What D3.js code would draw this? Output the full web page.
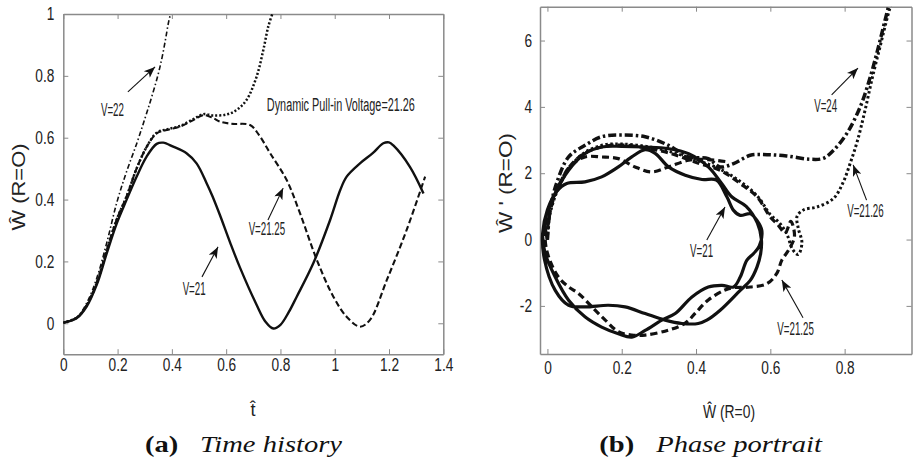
<!DOCTYPE html>
<html>
<head>
<meta charset="utf-8">
<script src="https://cdn.jsdelivr.net/npm/d3@7"></script>
<style>
body { margin: 0; background: #fff; }
svg { display: block; }
</style>
</head>
<body>
<script>
var width = 914;
var height = 465;

// panel (a): time history, [t, w]
var v21Time = [[0,0.002],[0.049,0.016],[0.086,0.054],[0.123,0.124],[0.16,0.226],[0.197,0.323],[0.233,0.399],[0.27,0.474],[0.307,0.539],[0.344,0.58],[0.368,0.584],[0.405,0.571],[0.454,0.55],[0.491,0.517],[0.528,0.453],[0.55,0.41],[0.577,0.35],[0.615,0.26],[0.651,0.18],[0.712,0.06],[0.745,0.005],[0.774,-0.017],[0.8,-0.005],[0.83,0.035],[0.86,0.086],[0.921,0.194],[0.983,0.334],[1.02,0.43],[1.044,0.474],[1.093,0.517],[1.14,0.55],[1.179,0.582],[1.2,0.585],[1.216,0.575],[1.277,0.506],[1.327,0.42]];
var v2125Time = [[0,0.002],[0.05,0.018],[0.086,0.058],[0.123,0.13],[0.16,0.236],[0.197,0.336],[0.233,0.41],[0.27,0.5],[0.307,0.57],[0.344,0.614],[0.381,0.625],[0.43,0.636],[0.479,0.657],[0.516,0.673],[0.553,0.663],[0.577,0.652],[0.62,0.645],[0.688,0.641],[0.72,0.61],[0.762,0.55],[0.823,0.463],[0.872,0.356],[0.934,0.205],[0.995,0.086],[1.044,0.021],[1.093,-0.011],[1.13,0.011],[1.192,0.14],[1.265,0.302],[1.333,0.474]];
var v2126Time = [[0,0.002],[0.05,0.018],[0.086,0.058],[0.123,0.13],[0.16,0.236],[0.197,0.336],[0.233,0.41],[0.27,0.5],[0.307,0.57],[0.344,0.616],[0.381,0.627],[0.43,0.638],[0.479,0.66],[0.516,0.676],[0.553,0.672],[0.602,0.675],[0.639,0.69],[0.675,0.722],[0.712,0.797],[0.737,0.884],[0.755,0.959],[0.77,1.0]];
var v22Time = [[0,0.002],[0.05,0.02],[0.086,0.065],[0.123,0.145],[0.16,0.26],[0.197,0.39],[0.233,0.49],[0.27,0.58],[0.3,0.66],[0.325,0.73],[0.348,0.8],[0.364,0.86],[0.377,0.92],[0.387,0.97],[0.395,1.0]];

// panel (b): phase portrait, [w, w']
var v21Phase = [[0,0],[-0.006,0.58],[0.021,1.39],[0.057,2.09],[0.101,2.59],[0.146,2.79],[0.2,2.81],[0.263,2.79],[0.326,2.74],[0.38,2.59],[0.433,2.19],[0.469,1.69],[0.496,1.29],[0.535,1.0],[0.565,0.5],[0.576,0],[0.574,-0.42],[0.564,-0.83],[0.546,-1.23],[0.519,-1.53],[0.465,-2.13],[0.429,-2.43],[0.406,-2.53],[0.362,-2.53],[0.317,-2.43],[0.263,-2.23],[0.209,-2.03],[0.164,-1.98],[0.101,-2.03],[0.057,-1.98],[0.021,-1.53],[-0.008,-0.6],[-0.013,0.18],[0,0.9],[0.025,1.45],[0.052,1.69],[0.101,1.74],[0.146,1.89],[0.191,2.19],[0.227,2.49],[0.263,2.71],[0.29,2.6],[0.326,2.19],[0.371,1.94],[0.416,1.81],[0.455,1.79],[0.483,1.29],[0.501,0.88],[0.519,0.73],[0.546,0.78],[0.564,0.58],[0.577,0.28],[0.57,-0.2],[0.555,-0.42],[0.537,-0.62],[0.519,-1.13],[0.501,-1.43],[0.47,-1.38],[0.433,-1.43],[0.389,-1.73],[0.344,-2.23],[0.308,-2.43],[0.263,-2.74],[0.227,-2.94],[0.191,-2.84],[0.146,-2.64],[0.101,-2.33],[0.057,-1.83],[0.021,-1.13],[-0.006,-0.42],[-0.013,0.1]];
var v2125Phase = [[0,0],[0.003,0.6],[0.022,1.4],[0.06,2.2],[0.1,2.6],[0.15,2.8],[0.2,2.85],[0.27,2.75],[0.33,2.6],[0.41,2.29],[0.465,2.09],[0.519,1.69],[0.564,1.29],[0.6,0.68],[0.62,0.45],[0.64,0.2],[0.655,0.55],[0.665,0.1],[0.65,-0.3],[0.631,-0.62],[0.617,-1.03],[0.591,-1.33],[0.546,-1.43],[0.501,-1.45],[0.478,-1.52],[0.433,-1.82],[0.398,-2.22],[0.371,-2.52],[0.326,-2.73],[0.263,-2.88],[0.227,-2.88],[0.191,-2.78],[0.155,-2.42],[0.119,-2.02],[0.083,-1.62],[0.056,-1.42],[0.029,-1.12],[0.003,-0.52],[-0.006,0],[0.003,0.9],[0.03,1.6],[0.06,2.2],[0.101,2.49],[0.146,2.49],[0.191,2.44],[0.236,2.19],[0.281,2.04],[0.326,2.19],[0.38,2.39],[0.433,2.41],[0.487,2.34]];
var v2126Phase = [[0,0],[0.004,0.6],[0.024,1.4],[0.062,2.2],[0.1,2.62],[0.15,2.85],[0.2,2.88],[0.27,2.8],[0.33,2.65],[0.4,2.4],[0.46,2.15],[0.519,1.75],[0.566,1.3],[0.6,0.75],[0.625,0.5],[0.645,0.15],[0.66,-0.3],[0.675,-0.45],[0.685,-0.1],[0.675,0.35],[0.672,0.7],[0.69,0.9],[0.725,0.98],[0.77,1.24],[0.795,1.7],[0.815,2.3],[0.835,3.0],[0.855,3.9],[0.875,4.9],[0.895,5.8],[0.915,6.7],[0.925,7.1]];
var v24Phase = [[0,0],[0.007,0.88],[0.023,1.64],[0.057,2.49],[0.101,2.84],[0.146,3.1],[0.2,3.15],[0.263,3.1],[0.326,2.84],[0.38,2.49],[0.433,2.44],[0.465,2.19],[0.501,2.29],[0.546,2.54],[0.591,2.56],[0.644,2.52],[0.707,2.42],[0.743,2.45],[0.77,2.69],[0.806,3.2],[0.842,4.0],[0.869,4.9],[0.891,5.81],[0.909,6.62],[0.918,7.02],[0.922,7.2]];

// tick labels
var tTicks = [0, 0.2, 0.4, 0.6, 0.8, 1, 1.2, 1.4];
var wTicks = [0, 0.2, 0.4, 0.6, 0.8, 1];
var phaseWTicks = [0, 0.2, 0.4, 0.6, 0.8];
var phaseVTicks = [-2, 0, 2, 4, 6];

// labels with arrows: [text, textX, textY, arrowFromX, arrowFromY, arrowToX, arrowToY] in data units
var timeNotes = [
    ["V=22", 0.181, 0.67, 0.238, 0.748, 0.338, 0.829],
    ["V=21.25", 0.75, 0.285, 0.754, 0.334, 0.81, 0.437],
    ["V=21", 0.482, 0.092, 0.511, 0.15, 0.57, 0.247]
];
var phaseNotes = [
    ["V=24", 0.749, 3.85, 0.765, 4.36, 0.836, 5.17],
    ["V=21.26", 0.856, 0.68, 0.859, 1.19, 0.823, 2.25],
    ["V=21", 0.415, -0.52, 0.429, -0.01, 0.478, 0.98],
    ["V=21.25", 0.668, -2.88, 0.688, -2.36, 0.631, -1.22]
];

var sans = "'Liberation Sans', Arial, sans-serif";
var serif = "'Liberation Serif', 'Times New Roman', serif";
var frameColor = "#8a8a8a";
var squeeze = 0.76; // the original uses a narrow face

var svg = d3.select("body")
    .append("svg")
    .attr("width", width)
    .attr("height", height)
    .style("background-color", "#fff");

svg.append("defs").append("marker")
    .attr("id", "head")
    .attr("viewBox", "0 0 10 8")
    .attr("refX", 10)
    .attr("refY", 4)
    .attr("markerWidth", 12)
    .attr("markerHeight", 9)
    .attr("markerUnits", "userSpaceOnUse")
    .attr("orient", "auto")
    .append("path")
    .attr("d", "M0,0 L10,4 L0,8 L2.5,4 z")
    .attr("fill", "#111");

// ---------- panel (a)
var xT = d3.scaleLinear().domain([0, 1.4]).range([63.3, 443.3]);
var yT = d3.scaleLinear().domain([-0.1, 1]).range([354.2, 14]);

// ---------- panel (b)
var xP = d3.scaleLinear().domain([-0.02, 0.98]).range([540, 911.5]);
var yP = d3.scaleLinear().domain([-3.45, 7.02]).range([354, 6.7]);

drawFrame(xT, yT, tTicks, wTicks, 4, 9);
drawFrame(xP, yP, phaseWTicks, phaseVTicks, 7, 8);

svg.append("clipPath").attr("id", "clipA")
    .append("rect").attr("x", 63.3).attr("y", 14).attr("width", 380).attr("height", 340.2);
svg.append("clipPath").attr("id", "clipB")
    .append("rect").attr("x", 540).attr("y", 6.7).attr("width", 374).attr("height", 347.3);

var lineT = d3.line().x(d => xT(d[0])).y(d => yT(d[1])).curve(d3.curveCatmullRom.alpha(0.5));
var lineP = d3.line().x(d => xP(d[0])).y(d => yP(d[1])).curve(d3.curveCatmullRom.alpha(0.5));

var gA = svg.append("g").attr("clip-path", "url(#clipA)");
addCurve(gA, lineT, v22Time, 1.6, "5,2.5,1.5,2.5");
addCurve(gA, lineT, v2126Time, 2.5, "2,2");
addCurve(gA, lineT, v2125Time, 2.1, "6,3");
addCurve(gA, lineT, v21Time, 2.4, null);

var gB = svg.append("g").attr("clip-path", "url(#clipB)");
addCurve(gB, lineP, v24Phase, 3.5, "8,3,2.5,3");
addCurve(gB, lineP, v2126Phase, 3, "2.5,2.5");
addCurve(gB, lineP, v2125Phase, 3.2, "7,4");
addCurve(gB, lineP, v21Phase, 3.2, null);

timeNotes.forEach(n => addNote(xT, yT, n));
phaseNotes.forEach(n => addNote(xP, yP, n));

svg.append("text")
    .attr("x", xT(0.75))
    .attr("y", yT(0.686))
    .attr("font-family", sans)
    .attr("font-size", "18px")
    .attr("fill", "#222")
    .attr("textLength", 148)
    .attr("lengthAdjust", "spacingAndGlyphs")
    .text("Dynamic Pull-in Voltage=21.26");

// axis titles
svg.append("text")
    .attr("transform", "translate(25,187) rotate(-90)")
    .attr("text-anchor", "middle")
    .attr("font-family", sans)
    .attr("font-size", "18px")
    .attr("fill", "#222")
    .attr("textLength", 87)
    .attr("lengthAdjust", "spacingAndGlyphs")
    .text("Ŵ (R=O)");

svg.append("text")
    .attr("transform", "translate(512,183) rotate(-90)")
    .attr("text-anchor", "middle")
    .attr("font-family", sans)
    .attr("font-size", "18px")
    .attr("fill", "#222")
    .attr("textLength", 100)
    .attr("lengthAdjust", "spacingAndGlyphs")
    .text("Ŵ ' (R=O)");

svg.append("text")
    .attr("x", 253)
    .attr("y", 416)
    .attr("text-anchor", "middle")
    .attr("font-family", sans)
    .attr("font-size", "18px")
    .attr("fill", "#222")
    .text("t\u0302");

svg.append("text")
    .attr("x", 729)
    .attr("y", 418)
    .attr("text-anchor", "middle")
    .attr("font-family", sans)
    .attr("font-size", "19px")
    .attr("fill", "#222")
    .attr("textLength", 52)
    .attr("lengthAdjust", "spacingAndGlyphs")
    .text("Ŵ (R=0)");

// captions: "(a)" at 145, "Time history" spans 200..342
var capScale = addCaption(145, "(a)", "Time history", 142);
var bTag = svg.append("text").attr("font-family", serif).attr("font-size", "24px").attr("font-weight", "bold").text("(b)");
var bWords = svg.append("text").attr("font-family", serif).attr("font-size", "24px").attr("font-style", "italic").text("Phase portrait");
var wTag = bTag.node().getComputedTextLength() * capScale;
var wWords = bWords.node().getComputedTextLength() * capScale;
var bStart = 822 - wWords - 22 - wTag;
bTag.attr("x", bStart).attr("y", 452).attr("fill", "#111")
    .attr("textLength", wTag).attr("lengthAdjust", "spacingAndGlyphs");
bWords.attr("x", 822 - wWords).attr("y", 452).attr("fill", "#111")
    .attr("textLength", wWords).attr("lengthAdjust", "spacingAndGlyphs");

function squeezeText(sel) {
    sel.each(function () {
        var w = this.getComputedTextLength();
        d3.select(this)
            .attr("textLength", w * squeeze)
            .attr("lengthAdjust", "spacingAndGlyphs");
    });
}

function drawFrame(x, y, xTicks, yTicks, xPad, yPad) {
    var x0 = x.range()[0], x1 = x.range()[1];
    var y0 = y.range()[0], y1 = y.range()[1];

    var bottom = svg.append("g")
        .attr("transform", `translate(0,${y0})`)
        .call(d3.axisBottom(x).tickValues(xTicks).tickFormat(d => String(d)).tickSizeInner(-5).tickSizeOuter(0).tickPadding(xPad));
    var left = svg.append("g")
        .attr("transform", `translate(${x0},0)`)
        .call(d3.axisLeft(y).tickValues(yTicks).tickFormat(d => String(d)).tickSizeInner(-5).tickSizeOuter(0).tickPadding(yPad));
    var top = svg.append("g")
        .attr("transform", `translate(0,${y1})`)
        .call(d3.axisTop(x).tickValues(xTicks).tickFormat("").tickSizeInner(-5).tickSizeOuter(0));
    var right = svg.append("g")
        .attr("transform", `translate(${x1},0)`)
        .call(d3.axisRight(y).tickValues(yTicks).tickFormat("").tickSizeInner(-5).tickSizeOuter(0));

    [bottom, left, top, right].forEach(function (g) {
        g.select(".domain").attr("stroke", frameColor).attr("stroke-width", 1.5);
        g.selectAll(".tick line").attr("stroke", frameColor).attr("stroke-width", 1);
        g.selectAll(".tick text")
            .attr("font-family", sans)
            .attr("font-size", "18px")
            .attr("fill", "#222");
    });
    squeezeText(bottom.selectAll(".tick text"));
    squeezeText(left.selectAll(".tick text"));
}

function addCurve(g, line, data, w, dash) {
    g.append("path")
        .datum(data)
        .attr("d", line)
        .attr("fill", "none")
        .attr("stroke", "#111")
        .attr("stroke-width", w)
        .attr("stroke-linejoin", "round")
        .attr("stroke-dasharray", dash);
}

function addNote(x, y, n) {
    var t = svg.append("text")
        .attr("x", x(n[1]))
        .attr("y", y(n[2]))
        .attr("text-anchor", "middle")
        .attr("font-family", sans)
        .attr("font-size", "18px")
        .attr("fill", "#222")
        .text(n[0]);
    t.attr("textLength", t.node().getComputedTextLength() * 0.54)
        .attr("lengthAdjust", "spacingAndGlyphs");
    svg.append("line")
        .attr("x1", x(n[3]))
        .attr("y1", y(n[4]))
        .attr("x2", x(n[5]))
        .attr("y2", y(n[6]))
        .attr("stroke", "#111")
        .attr("stroke-width", 1.1)
        .attr("marker-end", "url(#head)");
}

// draws a caption and returns how much the words had to be stretched
function addCaption(x, tag, words, wordsWidth) {
    var t = svg.append("text")
        .attr("x", x)
        .attr("y", 452)
        .attr("font-family", serif)
        .attr("font-size", "24px")
        .attr("font-weight", "bold")
        .attr("fill", "#111")
        .text(tag);
    var w = svg.append("text")
        .attr("x", 200)
        .attr("y", 452)
        .attr("font-family", serif)
        .attr("font-size", "24px")
        .attr("font-style", "italic")
        .attr("fill", "#111")
        .text(words);
    var k = wordsWidth / w.node().getComputedTextLength();
    w.attr("textLength", wordsWidth).attr("lengthAdjust", "spacingAndGlyphs");
    t.attr("textLength", t.node().getComputedTextLength() * k).attr("lengthAdjust", "spacingAndGlyphs");
    return k;
}
</script>
</body>
</html>
